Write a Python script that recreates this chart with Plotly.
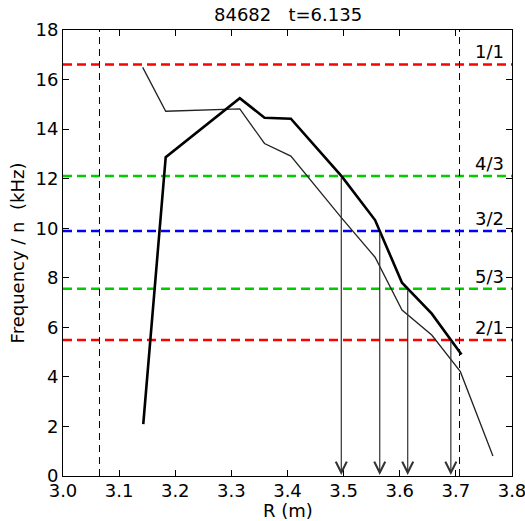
import numpy as np
import plotly.graph_objects as go

# Radial profiles of mode frequency / n
r_thick = [3.143, 3.183, 3.315, 3.359, 3.406, 3.497, 3.556, 3.604, 3.657, 3.710]
f_thick = [2.09, 12.87, 15.25, 14.46, 14.42, 12.08, 10.33, 7.80, 6.55, 4.90]

r_thin = [3.142, 3.183, 3.315, 3.359, 3.406, 3.497, 3.556, 3.604, 3.657, 3.708, 3.766]
f_thin = [16.49, 14.72, 14.82, 13.42, 12.91, 10.40, 8.83, 6.70, 5.69, 4.21, 0.81]

# Rational surfaces (m/n) and their frequency levels
q_labels = ["1/1", "4/3", "3/2", "5/3", "2/1"]
q_levels = [16.61, 12.11, 9.89, 7.56, 5.49]
q_colors = ["#ff0000", "#00cc00", "#0000ff", "#00cc00", "#ff0000"]

# Plasma boundary markers
r_bounds = [3.065, 3.7065]

# Surfaces where the arrows are dropped
arrow_labels = ["4/3", "3/2", "5/3", "2/1"]

x_ticks = [3.0, 3.1, 3.2, 3.3, 3.4, 3.5, 3.6, 3.7, 3.8]
y_ticks = [0, 2, 4, 6, 8, 10, 12, 14, 16, 18]

FONT = "DejaVu Sans"
FS = 18

fig = go.Figure()

for lvl, col in zip(q_levels, q_colors):
    fig.add_trace(go.Scatter(
        x=[3.0, 3.8], y=[lvl, lvl], mode="lines",
        line=dict(color=col, width=2.5, dash="9px,5px"),
        hoverinfo="skip", showlegend=False))

for rb in r_bounds:
    fig.add_trace(go.Scatter(
        x=[rb, rb], y=[0, 18], mode="lines",
        line=dict(color="black", width=1, dash="7px,5px"),
        hoverinfo="skip", showlegend=False))

fig.add_trace(go.Scatter(
    x=r_thin, y=f_thin, mode="lines",
    line=dict(color="#222222", width=1.3), showlegend=False))

fig.add_trace(go.Scatter(
    x=r_thick, y=f_thick, mode="lines",
    line=dict(color="black", width=2.6), showlegend=False))

# Crossing points of the thick profile with the rational surfaces
xr = np.array(r_thick)
yr = np.array(f_thick)
annotations = []
for lab in arrow_labels:
    lvl = q_levels[q_labels.index(lab)]
    xc = None
    for i in range(len(xr) - 1, 0, -1):
        y0, y1 = yr[i - 1], yr[i]
        if (y0 - lvl) * (y1 - lvl) <= 0 and y0 != y1:
            xc = xr[i - 1] + (lvl - y0) / (y1 - y0) * (xr[i] - xr[i - 1])
            break
    annotations.append(dict(
        x=xc, y=0, ax=xc, ay=lvl, xref="x", yref="y", axref="x", ayref="y",
        text="", showarrow=True, arrowhead=5, arrowsize=1.8, arrowwidth=1.2,
        arrowcolor="#333333", standoff=1))

for lab, lvl in zip(q_labels, q_levels):
    annotations.append(dict(
        x=3.8, y=lvl, xref="x", yref="y", text=lab, showarrow=False,
        xanchor="right", yanchor="bottom", xshift=-6, yshift=0,
        font=dict(family=FONT, size=FS, color="black")))

annotations.append(dict(
    x=0.5, y=1, xref="paper", yref="paper", yshift=3, text="84682\u00a0\u00a0\u00a0t=6.135",
    showarrow=False, xanchor="center", yanchor="bottom",
    font=dict(family=FONT, size=FS, color="black")))

# x-axis title placed just under the tick labels
annotations.append(dict(
    x=0.5, y=0, xref="paper", yref="paper", yshift=-23, text="R (m)",
    showarrow=False, xanchor="center", yanchor="top", borderpad=0,
    font=dict(family=FONT, size=FS, color="black")))

fig.update_layout(
    width=525, height=521,
    margin=dict(l=63, r=13, t=30, b=45),
    paper_bgcolor="white", plot_bgcolor="white",
    font=dict(family=FONT, size=FS, color="black"),
    annotations=annotations,
    showlegend=False,
)

fig.update_xaxes(
    range=[3.0, 3.8], tickvals=x_ticks, ticktext=[f"{v:.1f}" for v in x_ticks],
    ticks="inside", ticklen=6, tickcolor="black", mirror="allticks",
    showline=True, linecolor="black", linewidth=1, showgrid=False, zeroline=False,
    automargin=False, ticklabeloverflow="allow", ticklabelstandoff=-2,
    tickfont=dict(family=FONT, size=FS))

fig.update_yaxes(
    range=[0, 18], tickvals=y_ticks, ticks="inside", ticklen=6, tickcolor="black",
    mirror="allticks", showline=True, linecolor="black", linewidth=1,
    showgrid=False, zeroline=False, automargin=False, ticklabeloverflow="allow",
    title=dict(text="Frequency / n\u00a0\u00a0(kHz)", standoff=6, font=dict(family=FONT, size=FS)),
    tickfont=dict(family=FONT, size=FS))

fig.write_html("out.html")
